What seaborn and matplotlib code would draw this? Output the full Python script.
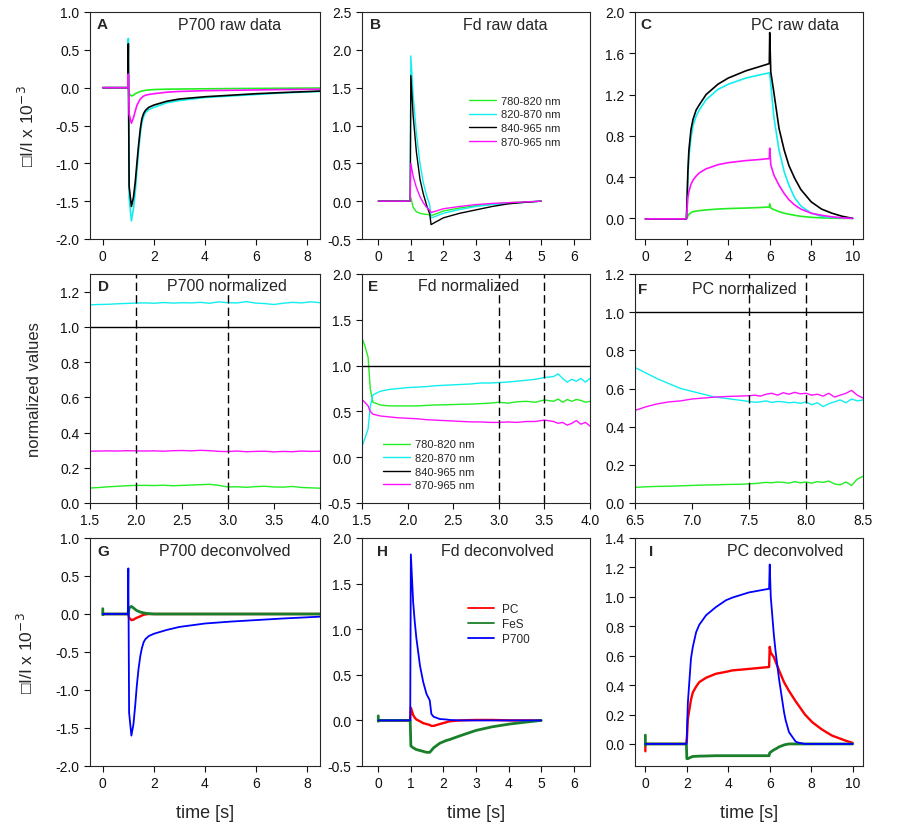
import numpy as np
import matplotlib
matplotlib.use("Agg")
import matplotlib.pyplot as plt
from matplotlib.ticker import FormatStrFormatter, MultipleLocator
import seaborn as sns

sns.set_style("ticks")
plt.rcParams['font.family'] = ['Liberation Sans', 'DejaVu Sans']
plt.rcParams['axes.unicode_minus'] = False

# --- colours of the four detection channels and the three components
c_green = "#22ee22"
c_cyan = "#11eeee"
c_black = "#000000"
c_magenta = "#ff11ff"
c_red = "#ff0000"
c_fes = "#1a7f2a"
c_blue = "#0000ff"

labels_nm = ["780-820 nm", "820-870 nm", "840-965 nm", "870-965 nm"]
labels_comp = ["PC", "FeS", "P700"]

# A  P700 raw data
t_a = [0.0, 0.98, 1.0, 1.03, 1.12, 1.2, 1.27, 1.33, 1.4, 1.47, 1.53, 1.6, 1.67, 1.8,
       2.0, 2.5, 3.0, 4.0, 5.0, 6.0, 7.0, 8.5]
a_green = [0, 0, 0.0, -0.08, -0.11, -0.10, -0.08, -0.07, -0.06, -0.05, -0.045, -0.04,
           -0.035, -0.03, -0.025, -0.02, -0.018, -0.015, -0.012, -0.01, -0.008, -0.005]
a_cyan = [0, 0, 0.65, -1.45, -1.76, -1.60, -1.38, -1.12, -0.84, -0.60, -0.46, -0.38,
          -0.33, -0.29, -0.26, -0.20, -0.17, -0.13, -0.11, -0.09, -0.07, -0.05]
a_black = [0, 0, 0.58, -1.30, -1.57, -1.45, -1.25, -1.02, -0.76, -0.54, -0.41, -0.34,
           -0.30, -0.26, -0.23, -0.18, -0.15, -0.12, -0.10, -0.08, -0.065, -0.045]
a_magenta = [0, 0, 0.18, -0.35, -0.47, -0.40, -0.31, -0.24, -0.19, -0.15, -0.13, -0.11,
             -0.10, -0.09, -0.08, -0.06, -0.05, -0.04, -0.035, -0.03, -0.025, -0.02]

# B  Fd raw data
t_b = [0.0, 0.98, 1.0, 1.07, 1.17, 1.28, 1.38, 1.48, 1.58, 1.62, 1.7, 2.0, 2.5, 3.0,
       3.5, 4.0, 4.5, 5.0]
b_green = [0, 0, 0.05, -0.08, -0.14, -0.16, -0.17, -0.175, -0.18, -0.19, -0.18, -0.13,
           -0.09, -0.06, -0.04, -0.02, -0.01, 0]
b_cyan = [0, 0, 1.92, 1.40, 0.90, 0.50, 0.25, 0.08, -0.05, -0.22, -0.21, -0.16, -0.11,
          -0.07, -0.045, -0.03, -0.015, 0]
b_black = [0, 0, 1.66, 1.13, 0.65, 0.29, 0.10, -0.05, -0.17, -0.31, -0.29, -0.22, -0.16,
           -0.115, -0.07, -0.035, -0.015, 0]
b_magenta = [0, 0, 0.50, 0.33, 0.18, 0.06, -0.02, -0.08, -0.12, -0.15, -0.14, -0.10,
             -0.07, -0.045, -0.03, -0.02, -0.01, 0]

# C  PC raw data
t_c = [0.0, 1.98, 2.0, 2.05, 2.1, 2.2, 2.3, 2.45, 2.6, 2.93, 3.5, 4.0, 4.85, 5.5, 5.98,
       6.0, 6.05, 6.2, 6.45, 6.7, 6.93, 7.2, 7.5, 8.0, 8.5, 9.0, 9.5, 10.0]
c_green_v = [-0.005, -0.005, 0.0, 0.02, 0.04, 0.055, 0.065, 0.07, 0.075, 0.082, 0.09, 0.095,
             0.1, 0.105, 0.11, 0.14, 0.1, 0.085, 0.065, 0.05, 0.04, 0.03, 0.02, 0.01,
             0.005, 0.002, 0, 0]
c_cyan_v = [-0.005, -0.005, 0.1, 0.4, 0.6, 0.78, 0.9, 0.99, 1.05, 1.15, 1.25, 1.3, 1.36,
            1.39, 1.41, 1.41, 1.3, 0.98, 0.66, 0.45, 0.32, 0.2, 0.12, 0.05, 0.02, 0.01,
            0.005, 0]
c_black_v = [-0.005, -0.005, 0.1, 0.45, 0.66, 0.86, 0.96, 1.05, 1.1, 1.2, 1.3, 1.36, 1.43,
             1.47, 1.50, 1.80, 1.42, 1.22, 0.87, 0.66, 0.51, 0.39, 0.28, 0.16, 0.09,
             0.05, 0.02, 0.0]
c_magenta_v = [-0.005, -0.005, 0.05, 0.2, 0.26, 0.33, 0.37, 0.41, 0.44, 0.48, 0.52, 0.54,
               0.56, 0.57, 0.58, 0.68, 0.52, 0.42, 0.32, 0.24, 0.18, 0.13, 0.09, 0.05,
               0.03, 0.015, 0.005, 0]

# D  P700 normalized
t_d = [1.5, 1.6, 1.7, 1.8, 1.9, 2.0, 2.1, 2.2, 2.3, 2.4, 2.5, 2.6, 2.7, 2.8, 2.9, 3.0,
       3.1, 3.2, 3.3, 3.4, 3.5, 3.6, 3.7, 3.8, 3.9, 4.0]
d_green = [0.085, 0.088, 0.092, 0.095, 0.098, 0.1, 0.1, 0.099, 0.101, 0.098, 0.1, 0.102,
           0.104, 0.106, 0.1, 0.091, 0.092, 0.089, 0.093, 0.095, 0.091, 0.09, 0.094,
           0.088, 0.086, 0.084]
d_cyan = [1.125, 1.127, 1.128, 1.131, 1.133, 1.135, 1.136, 1.134, 1.138, 1.135, 1.137,
          1.136, 1.139, 1.134, 1.142, 1.137, 1.136, 1.143, 1.135, 1.132, 1.127, 1.134,
          1.139, 1.136, 1.142, 1.137]
d_magenta = [0.294, 0.295, 0.296, 0.295, 0.297, 0.296, 0.295, 0.296, 0.294, 0.297, 0.298,
             0.296, 0.299, 0.297, 0.293, 0.292, 0.295, 0.291, 0.293, 0.294, 0.29, 0.293,
             0.291, 0.295, 0.293, 0.294]

# E  Fd normalized
t_e = [1.5, 1.53, 1.567, 1.59, 1.62, 1.7, 1.8, 1.9, 2.0, 2.1, 2.2, 2.3, 2.4, 2.5, 2.6,
       2.7, 2.8, 2.9, 3.0, 3.1, 3.2, 3.3, 3.4, 3.5, 3.6, 3.65, 3.7, 3.75, 3.8, 3.85,
       3.9, 3.95, 4.0]
e_green = [1.30, 1.22, 1.09, 0.75, 0.60, 0.57, 0.56, 0.56, 0.56, 0.56, 0.565, 0.57, 0.572,
           0.575, 0.578, 0.58, 0.585, 0.59, 0.60, 0.59, 0.605, 0.61, 0.60, 0.625, 0.61,
           0.635, 0.6, 0.63, 0.61, 0.63, 0.62, 0.60, 0.61]
e_cyan = [0.12, 0.2, 0.31, 0.55, 0.68, 0.72, 0.74, 0.75, 0.76, 0.765, 0.77, 0.78, 0.785,
          0.79, 0.795, 0.80, 0.81, 0.81, 0.815, 0.82, 0.83, 0.84, 0.85, 0.87, 0.88, 0.91,
          0.86, 0.82, 0.85, 0.83, 0.86, 0.82, 0.86]
e_magenta = [0.63, 0.6, 0.56, 0.5, 0.47, 0.45, 0.44, 0.43, 0.425, 0.42, 0.41, 0.405, 0.4,
             0.395, 0.39, 0.385, 0.385, 0.38, 0.38, 0.385, 0.38, 0.39, 0.39, 0.405, 0.39,
             0.37, 0.38, 0.35, 0.37, 0.4, 0.36, 0.38, 0.34]

# F  PC normalized
t_f = [6.5, 6.6, 6.7, 6.8, 6.9, 7.0, 7.1, 7.2, 7.3, 7.4, 7.5, 7.55, 7.6, 7.65, 7.7, 7.75,
       7.8, 7.85, 7.9, 7.95, 8.0, 8.05, 8.1, 8.15, 8.2, 8.25, 8.3, 8.35, 8.4, 8.45, 8.5]
f_green = [0.082, 0.085, 0.087, 0.088, 0.09, 0.092, 0.094, 0.095, 0.097, 0.098, 0.1,
           0.102, 0.105, 0.108, 0.106, 0.11, 0.108, 0.104, 0.112, 0.106, 0.11, 0.104,
           0.112, 0.108, 0.115, 0.1, 0.095, 0.11, 0.092, 0.125, 0.14]
f_cyan = [0.71, 0.68, 0.65, 0.625, 0.6, 0.585, 0.57, 0.555, 0.548, 0.54, 0.532, 0.528,
          0.53, 0.535, 0.527, 0.532, 0.53, 0.525, 0.528, 0.522, 0.53, 0.515, 0.525, 0.505,
          0.52, 0.53, 0.54, 0.525, 0.545, 0.535, 0.54]
f_magenta = [0.485, 0.505, 0.52, 0.53, 0.535, 0.545, 0.55, 0.555, 0.558, 0.56, 0.562,
             0.565, 0.56, 0.57, 0.575, 0.565, 0.578, 0.57, 0.58, 0.572, 0.575, 0.565, 0.57,
             0.56, 0.575, 0.555, 0.565, 0.575, 0.59, 0.565, 0.55]

# normalised to the 840-965 nm channel (constant 1.0)
norm_ref = [1.0, 1.0]

# G  P700 deconvolved
t_g = [0.0, 0.0, 0.02, 0.98, 1.0, 1.03, 1.12, 1.2, 1.27, 1.33, 1.4, 1.47, 1.53, 1.6, 1.67,
       1.8, 2.0, 2.5, 3.0, 4.0, 5.0, 6.0, 7.0, 8.5]
g_pc = [0, 0, 0, 0, 0, -0.05, -0.08, -0.075, -0.06, -0.05, -0.04, -0.03, -0.02, -0.01,
        -0.005, 0, 0, 0, 0, 0, 0, 0, 0, 0]
g_fes = [0.07, -0.01, 0, 0, 0, 0.08, 0.10, 0.08, 0.06, 0.045, 0.035, 0.025, 0.02, 0.015,
         0.01, 0.005, 0, 0, 0, 0, 0, 0, 0, 0]
g_p700 = [0, 0, 0, 0, 0.6, -1.3, -1.6, -1.45, -1.2, -0.95, -0.72, -0.55, -0.45, -0.37,
          -0.33, -0.29, -0.26, -0.21, -0.17, -0.125, -0.10, -0.08, -0.06, -0.035]

# H  Fd deconvolved
t_h = [0.0, 0.0, 0.02, 0.98, 1.0, 1.07, 1.12, 1.17, 1.28, 1.38, 1.48, 1.58, 1.63, 1.7,
       1.89, 2.09, 2.19, 2.5, 3.0, 3.5, 4.03, 4.5, 5.0]
h_pc = [0, 0, 0, 0, 0.14, 0.06, 0.03, 0.01, -0.01, -0.03, -0.04, -0.05, -0.06, -0.06,
        -0.04, -0.02, -0.01, 0, 0.005, 0.005, 0, 0, 0]
h_fes = [0.05, -0.01, 0, 0, -0.28, -0.30, -0.31, -0.32, -0.33, -0.34, -0.35, -0.35, -0.33,
         -0.30, -0.25, -0.22, -0.21, -0.17, -0.11, -0.07, -0.04, -0.02, 0]
h_p700 = [0, 0, 0, 0, 1.82, 1.30, 1.08, 0.90, 0.60, 0.42, 0.29, 0.22, 0.07, 0.04, 0.015,
          0.01, 0.005, 0, 0, 0, 0, 0, 0]

# I  PC deconvolved
t_i = [0.0, 0.0, 0.02, 1.98, 2.0, 2.05, 2.2, 2.29, 2.45, 2.6, 2.93, 3.4, 3.89, 4.2, 5.0,
       5.97, 6.0, 6.05, 6.2, 6.29, 6.45, 6.69, 6.77, 6.93, 7.25, 7.4, 7.7, 8.05, 8.5,
       9.0, 9.65, 10.0]
i_pc = [-0.05, 0.01, 0, 0, 0.02, 0.17, 0.3, 0.35, 0.39, 0.42, 0.45, 0.477, 0.49, 0.5,
        0.51, 0.523, 0.66, 0.62, 0.59, 0.557, 0.5, 0.42, 0.40, 0.36, 0.29, 0.26, 0.2,
        0.148, 0.1, 0.057, 0.023, 0.007]
i_fes = [0.06, -0.01, 0, 0, -0.1, -0.1, -0.09, -0.085, -0.084, -0.083, -0.082, -0.08,
         -0.08, -0.08, -0.08, -0.08, -0.06, -0.055, -0.04, -0.034, -0.02, -0.007, -0.004,
         0, 0, 0, 0, 0, 0, 0, 0, 0]
i_p700 = [0, 0, 0, 0, 0.05, 0.28, 0.58, 0.66, 0.76, 0.81, 0.875, 0.93, 0.977, 0.995, 1.03,
          1.055, 1.22, 1.0, 0.74, 0.62, 0.44, 0.216, 0.16, 0.08, 0.016, 0.008, 0, 0, 0,
          0, 0, 0]

W, H = 918, 829
fig = plt.figure(figsize=(W / 100, H / 100), dpi=100)

col_px = [(90, 320), (362, 590), (635, 863)]
row_px = [(13, 240), (275, 504), (539, 767)]

axes = {}
names = [["A", "B", "C"], ["D", "E", "F"], ["G", "H", "I"]]
for r, (top, bot) in enumerate(row_px):
    for c, (left, right) in enumerate(col_px):
        ax = fig.add_axes([left / W, 1 - bot / H, (right - left) / W, (bot - top) / H])
        axes[names[r][c]] = ax


def trace(ax, t, y, color, lw=1.0, label=None):
    sns.lineplot(x=t, y=y, ax=ax, color=color, lw=lw, estimator=None, sort=False,
                 label=label, legend=False)


def nm_traces(ax, t, g, cy, k, m, lw=1.0, labels=False):
    lab = labels_nm if labels else [None] * 4
    trace(ax, t, g, c_green, lw, lab[0])
    trace(ax, t, cy, c_cyan, lw, lab[1])
    if k is not None:
        trace(ax, t, k, c_black, lw, lab[2])
    trace(ax, t, m, c_magenta, lw, lab[3])


# raw data
nm_traces(axes["A"], t_a, a_green, a_cyan, a_black, a_magenta, lw=1.2)
nm_traces(axes["B"], t_b, b_green, b_cyan, b_black, b_magenta, lw=1.0, labels=True)
nm_traces(axes["C"], t_c, c_green_v, c_cyan_v, c_black_v, c_magenta_v, lw=1.2)

# normalized
nm_traces(axes["D"], t_d, d_green, d_cyan, None, d_magenta)
trace(axes["D"], [1.5, 4.0], norm_ref, c_black)
trace(axes["E"], t_e, e_green, c_green, 1.0, labels_nm[0])
trace(axes["E"], t_e, e_cyan, c_cyan, 1.0, labels_nm[1])
trace(axes["E"], [1.5, 4.0], norm_ref, c_black, 1.0, labels_nm[2])
trace(axes["E"], t_e, e_magenta, c_magenta, 1.0, labels_nm[3])
nm_traces(axes["F"], t_f, f_green, f_cyan, None, f_magenta)
trace(axes["F"], [6.5, 8.5], norm_ref, c_black)

# deconvolved
for key, t, pc, fes, p7, lab in [("G", t_g, g_pc, g_fes, g_p700, False),
                                 ("H", t_h, h_pc, h_fes, h_p700, True),
                                 ("I", t_i, i_pc, i_fes, i_p700, False)]:
    ax = axes[key]
    trace(ax, t, pc, c_red, 1.7, labels_comp[0] if lab else None)
    trace(ax, t, fes, c_fes, 2.0, labels_comp[1] if lab else None)
    trace(ax, t, p7, c_blue, 1.3, labels_comp[2] if lab else None)

# dashed time windows
for key, xs in [("D", [2.0, 3.0]), ("E", [3.0, 3.5]), ("F", [7.5, 8.0])]:
    for xv in xs:
        axes[key].axvline(xv, color="black", lw=1.0, dashes=(6, 3))

# axis ranges and ticks
limits = {
    "A": ((-0.5, 8.5), (-2.0, 1.0), 2, 0.5),
    "B": ((-0.5, 6.5), (-0.5, 2.5), 1, 0.5),
    "C": ((-0.5, 10.5), (-0.2, 2.0), 2, 0.4),
    "D": ((1.5, 4.0), (0.0, 1.3), 0.5, 0.2),
    "E": ((1.5, 4.0), (-0.5, 2.0), 0.5, 0.5),
    "F": ((6.5, 8.5), (0.0, 1.2), 0.5, 0.2),
    "G": ((-0.5, 8.5), (-2.0, 1.0), 2, 0.5),
    "H": ((-0.5, 6.5), (-0.5, 2.0), 1, 0.5),
    "I": ((-0.5, 10.5), (-0.15, 1.4), 2, 0.2),
}
for key, (xl, yl, xs, ys) in limits.items():
    ax = axes[key]
    ax.set_xlim(xl)
    ax.set_ylim(yl)
    if key in "DEF":
        ax.xaxis.set_major_locator(MultipleLocator(xs))
        ax.xaxis.set_major_formatter(FormatStrFormatter('%.1f'))
    else:
        ax.set_xticks(np.arange(0, xl[1], xs))
    if key == "C":
        ax.set_yticks(np.arange(0, 2.01, 0.4))
    elif key == "I":
        ax.set_yticks(np.arange(0, 1.41, 0.2))
    else:
        ax.yaxis.set_major_locator(MultipleLocator(ys))
    ax.yaxis.set_major_formatter(FormatStrFormatter('%.1f'))
    ax.tick_params(direction="out", length=4, width=0.8, labelsize=10,
                   colors="#111111", top=False, right=False)
    for sp in ax.spines.values():
        sp.set_visible(True)
        sp.set_linewidth(0.8)

# panel letters and titles
titles = {
    "A": (0.03, 0.607, 0.947, "P700 raw data"),
    "B": (0.035, 0.63, 0.947, "Fd raw data"),
    "C": (0.025, 0.70, 0.947, "PC raw data"),
    "D": (0.035, 0.596, 0.948, "P700 normalized"),
    "E": (0.026, 0.466, 0.948, "Fd normalized"),
    "F": (0.015, 0.478, 0.936, "PC normalized"),
    "G": (0.03, 0.587, 0.943, "P700 deconvolved"),
    "H": (0.066, 0.592, 0.943, "Fd deconvolved"),
    "I": (0.06, 0.658, 0.943, "PC deconvolved"),
}
for key, (lx, tx, ty, txt) in titles.items():
    ax = axes[key]
    ax.text(lx, ty, key, transform=ax.transAxes, fontsize=11, fontweight="bold",
            ha="left", va="center")
    ax.text(tx, ty, txt, transform=ax.transAxes, fontsize=11.5, ha="center", va="center")

# axis labels
axes["A"].set_ylabel("\u25a1I/I x 10$^{-3}$", fontsize=12.5)
axes["A"].yaxis.set_label_coords(-0.23, 0.5)
axes["D"].set_ylabel("normalized values", fontsize=12)
axes["D"].yaxis.set_label_coords(-0.21, 0.5)
axes["G"].set_ylabel("\u25a1I/I x 10$^{-3}$", fontsize=12.5)
axes["G"].yaxis.set_label_coords(-0.235, 0.5)
for key in "GHI":
    axes[key].set_xlabel("time [s]", fontsize=13)
    axes[key].xaxis.set_label_coords(0.5, -0.165)

# legends
leg_kw = dict(frameon=False, fontsize=8, borderpad=0, handletextpad=0.45,
              labelspacing=0.32, handlelength=2.45, loc="upper left")
axes["B"].legend(bbox_to_anchor=(0.443, 0.655), **leg_kw)
axes["E"].legend(bbox_to_anchor=(0.066, 0.302), **leg_kw)
leg_h = dict(leg_kw)
leg_h.update(fontsize=8.5, handletextpad=0.7, handlelength=2.2, labelspacing=0.25)
lh = axes["H"].legend(bbox_to_anchor=(0.439, 0.74), **leg_h)
for ln in lh.get_lines():
    ln.set_linewidth(1.3)

fig.savefig("out.png", dpi=100)
